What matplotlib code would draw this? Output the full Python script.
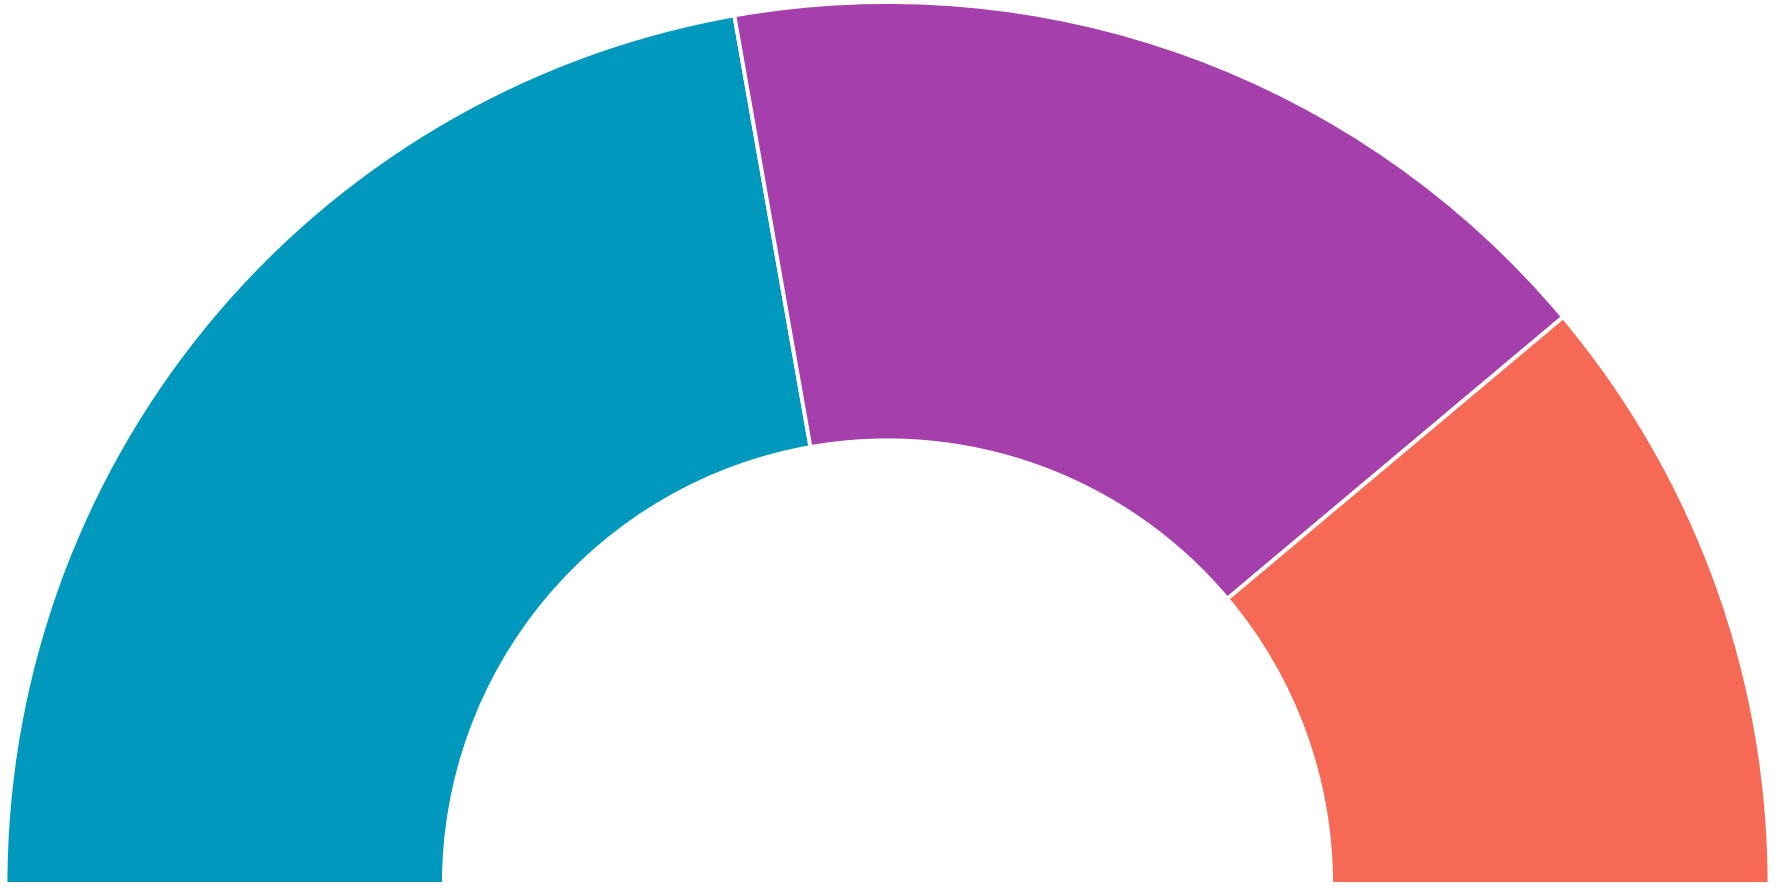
import matplotlib
matplotlib.use("Agg")
import matplotlib.pyplot as plt

# Data
labels = ["A", "B", "C"]
values = [40, 30, 20]
colors = ["#0098BD", "#A43FAB", "#F66A55"]

W, H = 1776, 888
fig = plt.figure(figsize=(W / 100, H / 100), dpi=100)
ax = fig.add_axes([0, 0, 1, 1])

cx_px, cy_px, r_px = 887.5, 4.0, 882.0

total = sum(values)
wedges, _ = ax.pie(values + [total], colors=colors + ["none"],
                   startangle=180, counterclock=False, radius=1.0,
                   wedgeprops=dict(width=0.497, edgecolor="white", linewidth=2.8),
                   normalize=True)
wedges[-1].set_edgecolor("none")
wedges[-1].set_visible(False)

ax.set_xlim(-cx_px / r_px, (W - cx_px) / r_px)
ax.set_ylim(-cy_px / r_px, (H - cy_px) / r_px)
ax.set_aspect("auto")
ax.axis("off")

fig.savefig("out.png", dpi=100, facecolor="white")
